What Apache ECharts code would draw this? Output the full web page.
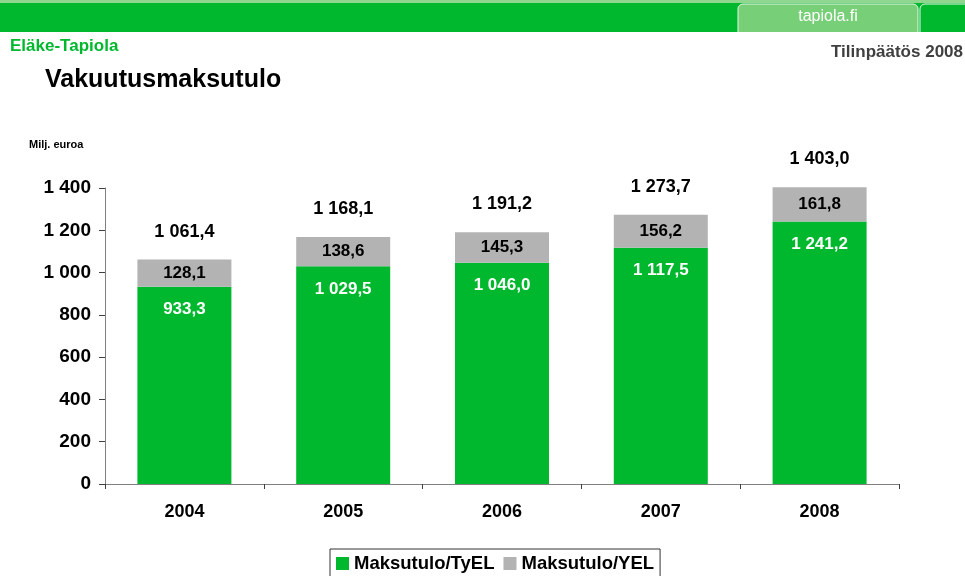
<!DOCTYPE html>
<html><head><meta charset="utf-8">
<script src="https://cdn.jsdelivr.net/npm/echarts@6/dist/echarts.min.js"></script>
<style>html,body{margin:0;padding:0;background:#fff}#c{width:965px;height:576px}</style>
</head><body><div id="c"></div>
<script>
const years = ['2004','2005','2006','2007','2008'];
const tyel = [933.3, 1029.5, 1046.0, 1117.5, 1241.2];
const yel = [128.1, 138.6, 145.3, 156.2, 161.8];
const totals = [1061.4, 1168.1, 1191.2, 1273.7, 1403.0];
const yTicks = [0, 200, 400, 600, 800, 1000, 1200, 1400];

function fmtNum(v, dec) {
  const s = v.toFixed(dec);
  const parts = s.split('.');
  const int = parts[0].replace(/\B(?=(\d{3})+(?!\d))/g, ' ');
  return parts.length > 1 ? int + ',' + parts[1] : int;
}
const FONT = 'Liberation Sans, Arial, sans-serif';
const chart = echarts.init(document.getElementById('c'), null, {renderer: 'canvas'});
chart.setOption({
  animation: false,
  backgroundColor: '#fff',
  graphic: [
    {type: 'rect', shape: {x: 0, y: 0, width: 965, height: 3}, style: {fill: '#8fd68f'}},
    {type: 'rect', shape: {x: 0, y: 3, width: 965, height: 29}, style: {fill: '#00b82e'}},
    {type: 'rect', shape: {x: 738, y: 4, width: 180, height: 30, r: [5, 5, 0, 0]}, style: {fill: '#77cf77', stroke: '#e8f6e8', lineWidth: 1}},
    {type: 'rect', shape: {x: 920, y: 4, width: 50, height: 30, r: [5, 0, 0, 0]}, style: {fill: '#00b82e', stroke: '#e8f6e8', lineWidth: 1}},
    {type: 'rect', shape: {x: 0, y: 32, width: 965, height: 4}, style: {fill: '#fff'}},
    {type: 'text', x: 828, y: 17, style: {text: 'tapiola.fi', fill: '#fff', font: '16px ' + FONT, textAlign: 'center', textVerticalAlign: 'middle'}},
    {type: 'text', x: 10, y: 46, style: {text: 'Eläke-Tapiola', fill: '#00b82e', font: 'bold 17px ' + FONT, textVerticalAlign: 'middle'}},
    {type: 'text', x: 963, y: 52, style: {text: 'Tilinpäätös 2008', fill: '#404040', font: 'bold 17px ' + FONT, textAlign: 'right', textVerticalAlign: 'middle'}},
    {type: 'text', x: 45, y: 80, style: {text: 'Vakuutusmaksutulo', fill: '#000', font: 'bold 25px ' + FONT, textVerticalAlign: 'middle'}},
    {type: 'text', x: 29, y: 145, style: {text: 'Milj. euroa', fill: '#000', font: 'bold 11px ' + FONT, textVerticalAlign: 'middle'}}
  ],
  legend: {
    bottom: -2, left: 330,
    data: ['Maksutulo/TyEL', 'Maksutulo/YEL'],
    itemWidth: 13, itemHeight: 13, itemGap: 9,
    borderColor: '#333', borderWidth: 1, padding: [5, 6, 5, 6],
    textStyle: {fontFamily: FONT, fontWeight: 'bold', fontSize: 18.5, color: '#000'},
    icon: 'rect'
  },
  grid: {left: 105, right: 66, top: 188, bottom: 92, containLabel: false},
  xAxis: {
    type: 'category', data: years, boundaryGap: true,
    axisLine: {lineStyle: {color: '#808080', width: 1}},
    axisTick: {show: true, length: 5, lineStyle: {color: '#404040'}},
    axisLabel: {fontFamily: FONT, fontWeight: 'bold', fontSize: 18, color: '#000', margin: 19}
  },
  yAxis: {
    type: 'value', min: yTicks[0], max: yTicks[yTicks.length - 1], interval: 200,
    splitLine: {show: false},
    axisLine: {show: true, lineStyle: {color: '#808080', width: 1}},
    axisTick: {show: true, length: 6, lineStyle: {color: '#404040'}},
    axisLabel: {fontFamily: FONT, fontWeight: 'bold', fontSize: 19, color: '#000', margin: 14,
      formatter: v => fmtNum(v, 0)}
  },
  series: [
    {
      name: 'Maksutulo/TyEL', type: 'bar', stack: 't', data: tyel, barWidth: 94,
      itemStyle: {color: '#00b82e'},
      label: {show: true, position: 'insideTop', distance: 14, color: '#fff', fontFamily: FONT, fontWeight: 'bold', fontSize: 17,
        formatter: p => fmtNum(p.value, 1)}
    },
    {
      name: 'Maksutulo/YEL', type: 'bar', stack: 't', data: yel, barWidth: 94, clip: false,
      itemStyle: {color: '#b3b3b3'},
      label: {show: true, position: 'inside', color: '#000', fontFamily: FONT, fontWeight: 'bold', fontSize: 17,
        formatter: p => fmtNum(p.value, 1)}
    },
    {
      name: 'total', type: 'line', data: totals, symbol: 'circle', symbolSize: 2, showSymbol: true, silent: true, clip: false,
      lineStyle: {color: 'rgba(0,0,0,0)', width: 0}, itemStyle: {color: 'rgba(0,0,0,0)'},
      label: {show: true, position: 'top', distance: 18, color: '#000', fontFamily: FONT, fontWeight: 'bold', fontSize: 18,
        formatter: p => fmtNum(p.value, 1)}
    }
  ]
});
</script></body></html>
